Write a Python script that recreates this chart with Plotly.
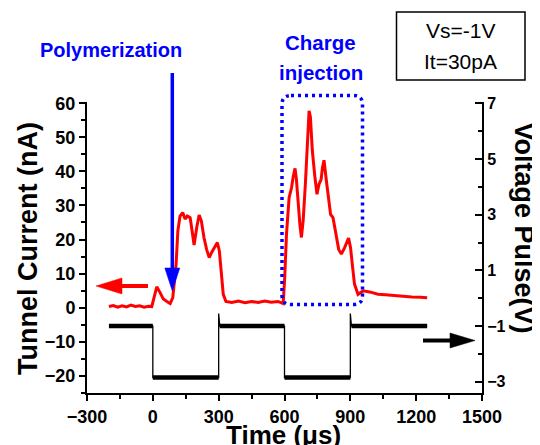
import plotly.graph_objects as go

# ---------------- data ----------------
# Tunnel current (nA)
t_current = [-200, -180, -160, -140, -120, -100, -80, -60, -40, -20,
             -5, 10, 18, 33, 48, 64, 79, 91,
             106, 114, 124, 136, 147, 157, 170, 179, 188, 200, 211, 221,
             233, 245, 257, 268, 283, 294, 303, 311, 321, 333,
             360, 390, 420, 450, 480, 510, 540, 570, 587, 594,
             601, 609, 621, 632, 639, 648, 654, 662, 670, 677,
             685, 695, 704, 712, 718, 727, 738, 748, 757, 767,
             773, 780, 791, 801, 810, 821, 833, 847, 859, 874,
             892, 901, 909, 919, 935, 958, 988, 1026, 1060, 1100,
             1140, 1180, 1220, 1250]
current = [0.3, 0.6, 0.1, 0.5, 0.2, 0.7, 0.3, 0.5, 0.1, 0.4,
           0.3, 3.9, 6.1, 4.4, 2.5, 1.8, 1.2, 2.9,
           12.7, 22.5, 26.9, 27.9, 26.0, 26.9, 26.4, 22.5, 18.4, 23.5, 27.2, 25.5,
           20.6, 17.1, 14.7, 16.2, 18.1, 19.1, 16.7, 10.8, 3.9, 1.8,
           1.5, 1.9, 1.4, 1.8, 1.5, 1.9, 1.6, 1.8, 1.3, 1.2,
           8.8, 21.5, 32.3, 35.2, 38.2, 40.9, 37.9, 30.4, 24.5, 20.6,
           25.5, 36.2, 49.0, 57.8, 56.0, 46.0, 38.7, 33.3, 36.2, 37.7,
           41.1, 43.3, 37.2, 31.3, 27.4, 26.4, 22.5, 17.1, 15.7, 17.6,
           20.4, 17.6, 12.7, 6.9, 3.9, 4.9, 4.6, 3.9, 3.8, 3.5,
           3.4, 3.1, 3.0, 2.9]

# Voltage pulse (V)
t_voltage = [-200, 0, 0, 300, 300, 305, 600, 600, 900, 900, 905, 1250]
voltage = [-1.0, -1.0, -2.85, -2.85, -0.55, -1.0, -1.0, -2.85, -2.85, -0.55, -1.0, -1.0]

x_ticks = [-300, 0, 300, 600, 900, 1200, 1500]
y_ticks = [-20, -10, 0, 10, 20, 30, 40, 50, 60]
y2_ticks = [-3, -1, 1, 3, 5, 7]

# ---------------- layout helpers ----------------
WIN_W, WIN_H = 540, 445
OFF = 8  # page body margin
W, H = WIN_W - OFF, WIN_H - OFF
L, R, T, B = 87, 482, 102, 393   # plot area in window pixels
FONT = "Liberation Sans, Arial, sans-serif"
BLUE = "#0000ff"


def px(x):
    return (x - L) / (R - L)


def py(y):
    return (B - y) / (B - T)


fig = go.Figure()

fig.add_trace(go.Scatter(x=t_current, y=current, mode="lines",
                         line=dict(color="#ff0000", width=3), yaxis="y"))

# thin full step trace
fig.add_trace(go.Scatter(x=t_voltage, y=voltage, mode="lines",
                         line=dict(color="black", width=1.3), yaxis="y2"))
# thick flat segments (noise band)
seg_x, seg_y = [], []
for i in range(len(t_voltage) - 1):
    if voltage[i] == voltage[i + 1] and t_voltage[i] != t_voltage[i + 1]:
        seg_x += [t_voltage[i], t_voltage[i + 1], None]
        seg_y += [voltage[i], voltage[i + 1], None]
fig.add_trace(go.Scatter(x=seg_x, y=seg_y, mode="lines",
                         line=dict(color="black", width=4.5), yaxis="y2"))

shapes = []
annotations = []


def arrow(x0, y0, x1, y1, color, lw, head_len, head_half):
    if y0 == y1:
        d = 1 if x1 > x0 else -1
        bx = x1 - d * head_len
        shapes.append(dict(type="line", xref="paper", yref="paper",
                           x0=px(x0), y0=py(y0), x1=px(bx), y1=py(y1),
                           line=dict(color=color, width=lw)))
        path = "M {} {} L {} {} L {} {} Z".format(px(x1), py(y1), px(bx), py(y1 - head_half),
                                                  px(bx), py(y1 + head_half))
    else:
        d = 1 if y1 > y0 else -1
        by = y1 - d * head_len
        shapes.append(dict(type="line", xref="paper", yref="paper",
                           x0=px(x0), y0=py(y0), x1=px(x1), y1=py(by),
                           line=dict(color=color, width=lw)))
        path = "M {} {} L {} {} L {} {} Z".format(px(x1), py(y1), px(x1 - head_half), py(by),
                                                  px(x1 + head_half), py(by))
    shapes.append(dict(type="path", xref="paper", yref="paper", path=path,
                       fillcolor=color, line=dict(color=color, width=0.5)))


arrow(148, 286, 96, 286, "#ff0000", 4, 26, 8)
arrow(423, 340.5, 475, 340.5, "black", 4, 25, 7.5)
arrow(172.3, 73, 172.3, 291, BLUE, 3.5, 23, 7.5)

# rounded dotted rectangle
x0, x1, y0, y1, r = 282, 362.5, 95.5, 304.5, 9
p = ("M {a} {b} L {c} {b} Q {x1} {b} {x1} {d} L {x1} {e} Q {x1} {f} {c} {f} "
     "L {a} {f} Q {x0} {f} {x0} {e} L {x0} {d} Q {x0} {b} {a} {b} Z").format(
    a=px(x0 + r), c=px(x1 - r), b=py(y0), f=py(y1), d=py(y0 + r), e=py(y1 - r),
    x0=px(x0), x1=px(x1))
shapes.append(dict(type="path", xref="paper", yref="paper", path=p,
                   line=dict(color=BLUE, width=3.5, dash="3px,4px")))

# parameter box
shapes.append(dict(type="rect", xref="paper", yref="paper",
                   x0=px(396.5), x1=px(525), y0=py(12), y1=py(80),
                   line=dict(color="black", width=1.5)))


def text(x, y, s, size, color="black", bold=True, angle=0):
    annotations.append(dict(x=px(x), y=py(y), xref="paper", yref="paper", text=s,
                            showarrow=False, xanchor="center", yanchor="middle",
                            textangle=angle,
                            font=dict(family=FONT, size=size, color=color,
                                      weight=700 if bold else 400)))


text(460.5, 30, "Vs=-1V", 21, bold=False)
text(460.5, 61, "It=30pA", 21, bold=False)
text(110.5, 50.5, "Polymerization", 20, color=BLUE)
text(320.5, 42.3, "Charge", 20.5, color=BLUE)
text(320.5, 73, "injection", 20.5, color=BLUE)
text(27.5, 248.5, "Tunnel Current (nA)", 27, angle=-90)
text(524, 227.5, "Voltage Pulse(V)", 27, angle=90)
text(283, 435, "Time (μs)", 26)

axis_common = dict(showgrid=False, zeroline=False, showline=True, linecolor="black",
                   linewidth=2, tickcolor="black", tickwidth=2, automargin=False)

fig.update_layout(
    width=W, height=H,
    margin=dict(l=L - OFF, r=WIN_W - R, t=T - OFF, b=WIN_H - B, pad=0),
    paper_bgcolor="white", plot_bgcolor="white",
    showlegend=False,
    font=dict(family=FONT, color="black"),
    xaxis=dict(range=[-300, 1500], tickvals=x_ticks, ticks="outside", ticklen=6,
               tickfont=dict(family=FONT, size=18, weight=700),
               minor=dict(dtick=150, tick0=0, ticks="outside", ticklen=3.5,
                          tickcolor="black", tickwidth=2),
               **axis_common),
    yaxis=dict(range=[-25.1, 60.4], tickvals=y_ticks, ticks="outside", ticklen=6,
               tickfont=dict(family=FONT, size=18, weight=700),
               minor=dict(dtick=5, tick0=0, ticks="outside", ticklen=4,
                          tickcolor="black", tickwidth=2),
               **axis_common),
    yaxis2=dict(range=[-3.405, 7.047], tickvals=y2_ticks, ticks="inside", ticklen=7,
                overlaying="y", side="right",
                tickfont=dict(family=FONT, size=16, weight=700),
                minor=dict(dtick=1, tick0=-3, ticks="inside", ticklen=4,
                           tickcolor="black", tickwidth=2),
                **axis_common),
    shapes=shapes,
    annotations=annotations,
)

fig.write_html("out.html")
